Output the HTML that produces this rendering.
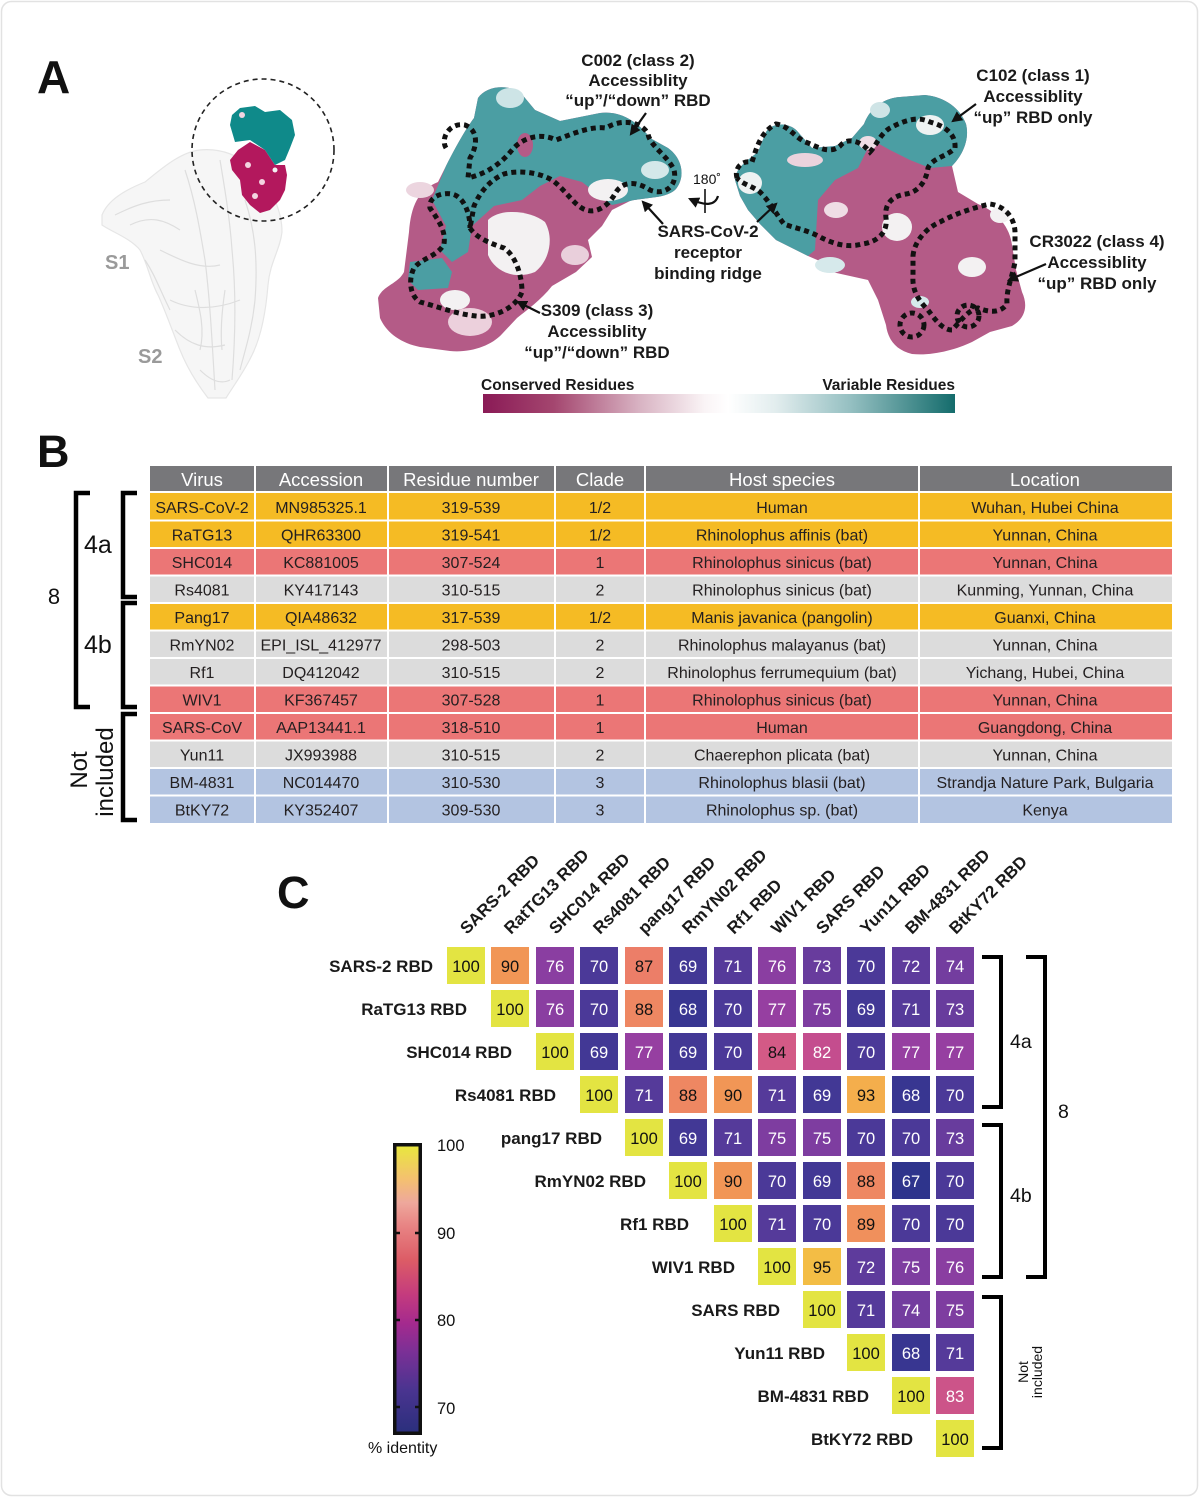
<!DOCTYPE html>
<html><head><meta charset="utf-8">
<style>
html,body{margin:0;padding:0;background:#fff;}
svg{display:block;}
text{font-family:"Liberation Sans",Arial,sans-serif;}
.b{font-weight:bold;}
.lab{font-weight:bold;font-size:17px;fill:#1a1a1a;}
.tb{font-size:16px;fill:#231f20;text-anchor:middle;}
.th{font-size:18.5px;fill:#fff;text-anchor:middle;}
.cn{font-size:16.5px;text-anchor:middle;}
.w{fill:#fff;} .k{fill:#111;}
.c100{fill:#e3e442}.c95{fill:#f3bd45}.c93{fill:#f4ae4c}.c90{fill:#f19656}.c89{fill:#f0905c}.c88{fill:#ee8762}.c87{fill:#ec7e68}
.c84{fill:#d35a86}.c83{fill:#cc5489}.c82{fill:#c44d8e}.c77{fill:#963fa1}.c76{fill:#8a3ea1}.c75{fill:#7e3da0}.c74{fill:#733d9f}
.c73{fill:#683c9d}.c72{fill:#5e3b9c}.c71{fill:#553a9a}.c70{fill:#4b3998}.c69{fill:#423895}.c68{fill:#383691}.c67{fill:#2e348c}
.dot{fill:none;stroke:#111;stroke-width:5;stroke-dasharray:5 4;}
.br{fill:none;stroke:#000;stroke-width:4.5;}
.hb{fill:none;stroke:#000;stroke-width:4;}
</style></head>
<body>
<svg width="1200" height="1497" viewBox="0 0 1200 1497" xmlns="http://www.w3.org/2000/svg">
<defs>
<linearGradient id="gA" x1="0" x2="1" y1="0" y2="0">
<stop offset="0" stop-color="#8a1a56"/><stop offset="0.15" stop-color="#a4466f"/><stop offset="0.33" stop-color="#d8b2c2"/>
<stop offset="0.47" stop-color="#faf4f6"/><stop offset="0.52" stop-color="#ffffff"/><stop offset="0.62" stop-color="#e2edee"/>
<stop offset="0.78" stop-color="#94bfc1"/><stop offset="1" stop-color="#146c6c"/>
</linearGradient>
<linearGradient id="gC" x1="0" x2="0" y1="0" y2="1">
<stop offset="0" stop-color="#e8e83c"/><stop offset="0.12" stop-color="#f4c070"/><stop offset="0.2" stop-color="#eea89c"/>
<stop offset="0.28" stop-color="#e88484"/><stop offset="0.4" stop-color="#dc5c66"/><stop offset="0.52" stop-color="#c43b7e"/>
<stop offset="0.62" stop-color="#a42a8e"/><stop offset="0.72" stop-color="#7a3096"/><stop offset="0.85" stop-color="#4a3490"/>
<stop offset="1" stop-color="#2a2f7c"/>
</linearGradient>
<marker id="ah" viewBox="0 0 10 10" refX="8" refY="5" markerWidth="5" markerHeight="5" orient="auto">
<path d="M0,0 L10,5 L0,10 Z" fill="#111"/></marker>
</defs>

<rect x="1.5" y="1.5" width="1196" height="1494" rx="10" fill="#fff" stroke="#e2e2e2" stroke-width="1.5"/>

<!-- ============ PANEL A ============ -->
<text x="37" y="93" class="b" font-size="46" fill="#111">A</text>

<!-- spike -->
<g>
<path d="M102,215 C108,200 125,190 145,182 C160,170 180,152 200,150 C220,148 240,155 255,170 C270,185 282,210 282,232 C280,250 270,262 268,285 C266,310 262,335 252,355 C244,372 234,385 226,398 L208,398 C198,385 188,370 180,350 C172,330 165,310 158,295 C150,280 148,265 140,250 C130,238 112,232 102,225 Z" fill="#f6f6f6" stroke="#e6e6e6" stroke-width="1.2"/>
<g fill="none" stroke="#dedede" stroke-width="1.2">
<path d="M115,215 C135,205 150,200 170,200 M130,225 C150,215 165,220 180,230"/>
<path d="M185,170 C195,200 200,230 205,260 C210,300 212,340 215,390"/>
<path d="M220,160 C225,190 230,220 232,250 C236,290 236,330 232,380"/>
<path d="M160,250 C180,260 200,270 220,265 M170,300 C190,310 215,310 240,300"/>
<path d="M245,200 C255,230 258,260 255,300 C252,330 245,350 240,370"/>
<path d="M175,330 C190,345 205,350 225,345 M200,370 C210,380 220,385 230,380"/>
<path d="M145,260 C155,275 160,290 170,310"/>
<path d="M195,290 C200,310 205,330 200,350 M225,290 C222,310 220,330 222,350"/>
</g>
</g>
<text x="105" y="269" class="b" font-size="20" fill="#9a9a9a">S1</text>
<text x="138" y="363" class="b" font-size="20" fill="#9a9a9a">S2</text>

<!-- small RBD -->
<path d="M230,160 L238,150 L250,142 L265,150 L275,165 L285,165 L287,175 L285,190 L280,200 L270,210 L260,213 L250,205 L242,195 L240,180 L232,170 Z" fill="#b3185d"/>
<path d="M232,115 L240,108 L255,106 L265,112 L280,110 L292,120 L295,135 L290,148 L285,160 L275,165 L265,150 L250,140 L235,142 L230,125 Z" fill="#0f8a8a"/>
<circle cx="248" cy="165" r="3" fill="#f3d4e0"/><circle cx="262" cy="182" r="3" fill="#f3d4e0"/><circle cx="275" cy="170" r="2.5" fill="#f2f2f2"/><circle cx="255" cy="196" r="3" fill="#f3d4e0"/><circle cx="242" cy="115" r="3" fill="#f3d4e0"/>
<circle cx="263" cy="150" r="71" fill="none" stroke="#222" stroke-width="1.6" stroke-dasharray="5 4"/>

<!-- left molecule -->
<path d="M378,298 C382,286 398,284 404,272 L409,232 C411,206 418,190 438,182 L446,166 C455,148 465,130 474,118 L478,98 C486,86 506,84 520,92 L535,110 L560,121 L600,113 C622,110 640,124 650,138 L668,148 C682,158 686,176 676,189 C666,199 646,197 630,201 L612,210 L602,226 L588,240 L592,257 L576,272 L552,286 C541,300 527,310 517,318 L502,334 C491,346 470,353 450,351 L420,347 C400,343 386,332 380,318 Z" fill="#b45b87"/>
<path d="M478,98 C486,86 506,84 520,92 L535,110 L560,121 L600,113 C622,110 640,124 650,138 L668,148 C682,158 686,176 676,189 C666,199 646,197 630,201 L612,205 L600,196 L582,182 L560,176 L540,186 L522,200 L494,206 L472,226 L468,252 L452,262 L440,250 L446,226 L432,200 L446,166 C455,148 465,130 474,118 Z" fill="#4b9ea3"/>
<path d="M410,262 L442,258 L452,272 L448,288 L418,290 L408,280 Z" fill="#4b9ea3"/>
<ellipse cx="525" cy="145" rx="8" ry="12" fill="#b45b87"/>
<path d="M488,220 C500,208 530,210 545,222 C555,240 548,262 535,272 C515,280 495,272 488,255 Z" fill="#f3f1f2"/>
<ellipse cx="608" cy="190" rx="20" ry="11" fill="#f3f1f2"/>
<ellipse cx="420" cy="190" rx="14" ry="8" fill="#ecd5df"/>
<ellipse cx="470" cy="322" rx="22" ry="14" fill="#ecd0dc"/>
<ellipse cx="455" cy="300" rx="15" ry="10" fill="#f3f1f2"/>
<ellipse cx="510" cy="98" rx="14" ry="10" fill="#cde4e6"/>
<ellipse cx="655" cy="170" rx="14" ry="9" fill="#d4e8ea"/>
<ellipse cx="575" cy="255" rx="14" ry="10" fill="#e9cfdb"/>
<path class="dot" d="M446,148 C440,138 450,122 465,125 C478,130 478,145 470,158 L468,178 C485,174 500,165 512,150 C522,138 540,132 556,140 C572,134 590,126 606,128 C622,118 642,122 648,134 C650,146 668,156 674,170 C678,186 664,196 650,190 C638,182 624,180 616,192 C610,204 598,214 586,210 C574,206 566,190 552,180 C538,172 518,170 504,174 C490,180 480,192 474,206 L470,228"/>
<path class="dot" d="M470,228 C476,238 492,244 504,248 C516,256 522,276 522,292 C516,308 494,318 476,316 C456,314 436,306 420,302 C410,296 408,280 414,268 C422,258 438,256 444,244 C446,230 438,220 430,208 C428,198 440,192 452,194 C462,196 470,210 470,228"/>

<!-- right molecule -->
<path d="M735,180 C735,168 748,160 758,152 L766,132 C772,122 790,122 798,132 L812,148 L835,146 L852,138 L864,124 C870,108 884,98 900,97 L925,95 C945,97 960,108 966,124 C970,140 962,156 952,166 L958,192 L978,204 C998,212 1010,228 1012,245 L1016,270 L1022,292 C1028,305 1026,318 1012,326 L990,332 L972,342 C955,350 932,356 912,354 C896,350 888,340 886,325 L878,300 L868,280 L850,276 L832,272 L822,262 L808,256 L792,248 L776,240 L760,224 L748,210 L740,196 Z" fill="#b45b87"/>
<path d="M735,180 C735,168 748,160 758,152 L766,132 C772,122 790,122 798,132 L812,148 L835,146 L852,138 L864,124 L872,140 L858,168 L835,180 L818,200 L815,250 L808,256 L792,248 L776,240 L760,224 L748,210 L740,196 Z" fill="#4b9ea3"/>
<path d="M864,124 C870,108 884,98 900,97 L925,95 C945,97 960,108 966,124 C970,140 962,156 952,166 L930,168 L910,160 L890,150 L872,140 Z" fill="#4b9ea3"/>
<ellipse cx="805" cy="160" rx="18" ry="7" fill="#ebd3dd"/>
<ellipse cx="750" cy="183" rx="12" ry="11" fill="#eef2f2"/>
<ellipse cx="930" cy="125" rx="14" ry="10" fill="#eef2f2"/>
<ellipse cx="880" cy="110" rx="10" ry="8" fill="#cfe4e6"/>
<ellipse cx="897" cy="227" rx="15" ry="14" fill="#f3f1f2"/>
<ellipse cx="1000" cy="215" rx="10" ry="8" fill="#f3f1f2"/>
<ellipse cx="972" cy="267" rx="14" ry="10" fill="#f3f1f2"/>
<ellipse cx="830" cy="265" rx="15" ry="8" fill="#d6e9eb"/>
<ellipse cx="920" cy="302" rx="9" ry="6" fill="#d6e9eb"/>
<ellipse cx="836" cy="210" rx="12" ry="8" fill="#efdde5"/>
<ellipse cx="868" cy="143" rx="9" ry="7" fill="#efdde5"/>
<path class="dot" d="M737,178 C734,168 742,160 752,162 C756,150 760,132 776,124 C790,126 794,138 808,143 C820,148 830,154 840,146 C848,136 862,142 870,152 C876,146 880,134 890,128 C905,120 918,116 930,122 C945,126 956,134 955,148 C948,156 932,158 928,168 C926,182 918,192 906,194 C892,196 884,204 886,218 C888,232 878,242 862,244 C848,248 834,244 822,238 C808,230 794,228 784,224 C776,214 770,202 760,192 C752,186 742,184 737,178"/>
<path class="dot" d="M913,256 C914,242 926,228 940,222 C955,214 972,208 990,204 C1005,206 1016,218 1015,236 L1015,262 C1012,278 1006,290 1007,304 C1000,314 988,312 978,308 C968,310 960,322 952,330 C942,330 934,318 928,310 C918,300 912,290 913,276 Z"/>
<circle class="dot" cx="912" cy="325" r="12"/>
<circle class="dot" cx="968" cy="316" r="11"/>

<!-- labels A -->
<g class="lab" text-anchor="middle">
<text x="638" y="66">C002 (class 2)</text>
<text x="638" y="86">Accessiblity</text>
<text x="638" y="106">“up”/“down” RBD</text>
<text x="708" y="237">SARS-CoV-2</text>
<text x="708" y="258">receptor</text>
<text x="708" y="279">binding ridge</text>
<text x="597" y="316">S309 (class 3)</text>
<text x="597" y="337">Accessiblity</text>
<text x="597" y="358">“up”/“down” RBD</text>
<text x="1033" y="81">C102 (class 1)</text>
<text x="1033" y="102">Accessiblity</text>
<text x="1033" y="123">“up” RBD only</text>
<text x="1097" y="247">CR3022 (class 4)</text>
<text x="1097" y="268">Accessiblity</text>
<text x="1097" y="289">“up” RBD only</text>
</g>
<g stroke="#111" stroke-width="2.2" fill="none" marker-end="url(#ah)">
<line x1="646" y1="113" x2="631" y2="134"/>
<line x1="663" y1="224" x2="643" y2="202"/>
<line x1="757" y1="222" x2="776" y2="204"/>
<line x1="540" y1="313" x2="518" y2="302"/>
<line x1="976" y1="104" x2="953" y2="121"/>
<line x1="1046" y1="264" x2="1009" y2="280"/>
<path d="M718,196 Q714,210 690,199"/>
</g>
<text x="693" y="184" font-size="14" fill="#111">180˚</text>
<line x1="705" y1="189" x2="705" y2="213" stroke="#111" stroke-width="1.6"/>

<!-- gradient bar A -->
<text x="481" y="390" class="b" font-size="15.5" fill="#1a1a1a">Conserved Residues</text>
<text x="955" y="390" class="b" font-size="15.5" fill="#1a1a1a" text-anchor="end">Variable Residues</text>
<rect x="483" y="394" width="472" height="19" fill="url(#gA)"/>

<!-- ============ PANEL B ============ -->
<text x="37" y="467" class="b" font-size="45" fill="#111">B</text>
<rect x="150" y="466" width="1022" height="26" fill="#77777a"/>
<rect x="150" y="493" width="1022" height="55" fill="#f5bb24"/>
<rect x="150" y="548" width="1022" height="27.5" fill="#eb7676"/>
<rect x="150" y="575.5" width="1022" height="27.5" fill="#dcdcdc"/>
<rect x="150" y="603" width="1022" height="27.5" fill="#f5bb24"/>
<rect x="150" y="630.5" width="1022" height="55" fill="#dcdcdc"/>
<rect x="150" y="685.5" width="1022" height="55" fill="#eb7676"/>
<rect x="150" y="740.5" width="1022" height="27.5" fill="#dcdcdc"/>
<rect x="150" y="768" width="1022" height="55" fill="#b3c4e1"/>
<g stroke="#fff" stroke-width="2">
<line x1="150" y1="492" x2="1172" y2="492"/>
<line x1="150" y1="520.5" x2="1172" y2="520.5"/><line x1="150" y1="548" x2="1172" y2="548"/>
<line x1="150" y1="575.5" x2="1172" y2="575.5"/><line x1="150" y1="603" x2="1172" y2="603"/>
<line x1="150" y1="630.5" x2="1172" y2="630.5"/><line x1="150" y1="658" x2="1172" y2="658"/>
<line x1="150" y1="685.5" x2="1172" y2="685.5"/><line x1="150" y1="713" x2="1172" y2="713"/>
<line x1="150" y1="740.5" x2="1172" y2="740.5"/><line x1="150" y1="768" x2="1172" y2="768"/>
<line x1="150" y1="795.5" x2="1172" y2="795.5"/>
<line x1="255" y1="466" x2="255" y2="823"/><line x1="388" y1="466" x2="388" y2="823"/>
<line x1="555" y1="466" x2="555" y2="823"/><line x1="645" y1="466" x2="645" y2="823"/>
<line x1="919" y1="466" x2="919" y2="823"/>
</g>
<g class="th">
<text x="202" y="486">Virus</text><text x="321" y="486">Accession</text><text x="471" y="486">Residue number</text>
<text x="600" y="486">Clade</text><text x="782" y="486">Host species</text><text x="1045" y="486">Location</text>
</g>
<g class="tb">
<text x="202" y="513">SARS-CoV-2</text><text x="321" y="513">MN985325.1</text><text x="471" y="513">319-539</text><text x="600" y="513">1/2</text><text x="782" y="513">Human</text><text x="1045" y="513">Wuhan, Hubei China</text>
<text x="202" y="540.5">RaTG13</text><text x="321" y="540.5">QHR63300</text><text x="471" y="540.5">319-541</text><text x="600" y="540.5">1/2</text><text x="782" y="540.5">Rhinolophus affinis (bat)</text><text x="1045" y="540.5">Yunnan, China</text>
<text x="202" y="568">SHC014</text><text x="321" y="568">KC881005</text><text x="471" y="568">307-524</text><text x="600" y="568">1</text><text x="782" y="568">Rhinolophus sinicus (bat)</text><text x="1045" y="568">Yunnan, China</text>
<text x="202" y="595.5">Rs4081</text><text x="321" y="595.5">KY417143</text><text x="471" y="595.5">310-515</text><text x="600" y="595.5">2</text><text x="782" y="595.5">Rhinolophus sinicus (bat)</text><text x="1045" y="595.5">Kunming, Yunnan, China</text>
<text x="202" y="623">Pang17</text><text x="321" y="623">QIA48632</text><text x="471" y="623">317-539</text><text x="600" y="623">1/2</text><text x="782" y="623">Manis javanica (pangolin)</text><text x="1045" y="623">Guanxi, China</text>
<text x="202" y="650.5">RmYN02</text><text x="321" y="650.5">EPI_ISL_412977</text><text x="471" y="650.5">298-503</text><text x="600" y="650.5">2</text><text x="782" y="650.5">Rhinolophus malayanus (bat)</text><text x="1045" y="650.5">Yunnan, China</text>
<text x="202" y="678">Rf1</text><text x="321" y="678">DQ412042</text><text x="471" y="678">310-515</text><text x="600" y="678">2</text><text x="782" y="678">Rhinolophus ferrumequium (bat)</text><text x="1045" y="678">Yichang, Hubei, China</text>
<text x="202" y="705.5">WIV1</text><text x="321" y="705.5">KF367457</text><text x="471" y="705.5">307-528</text><text x="600" y="705.5">1</text><text x="782" y="705.5">Rhinolophus sinicus (bat)</text><text x="1045" y="705.5">Yunnan, China</text>
<text x="202" y="733">SARS-CoV</text><text x="321" y="733">AAP13441.1</text><text x="471" y="733">318-510</text><text x="600" y="733">1</text><text x="782" y="733">Human</text><text x="1045" y="733">Guangdong, China</text>
<text x="202" y="760.5">Yun11</text><text x="321" y="760.5">JX993988</text><text x="471" y="760.5">310-515</text><text x="600" y="760.5">2</text><text x="782" y="760.5">Chaerephon plicata (bat)</text><text x="1045" y="760.5">Yunnan, China</text>
<text x="202" y="788">BM-4831</text><text x="321" y="788">NC014470</text><text x="471" y="788">310-530</text><text x="600" y="788">3</text><text x="782" y="788">Rhinolophus blasii (bat)</text><text x="1045" y="788">Strandja Nature Park, Bulgaria</text>
<text x="202" y="815.5">BtKY72</text><text x="321" y="815.5">KY352407</text><text x="471" y="815.5">309-530</text><text x="600" y="815.5">3</text><text x="782" y="815.5">Rhinolophus sp. (bat)</text><text x="1045" y="815.5">Kenya</text>
</g>
<!-- brackets B -->
<path class="br" d="M90,493 L76,493 L76,707 L90,707"/>
<path class="br" d="M137,493 L123,493 L123,597 L137,597"/>
<path class="br" d="M137,603 L123,603 L123,707 L137,707"/>
<path class="br" d="M137,714 L123,714 L123,820 L137,820"/>
<text x="54" y="604" font-size="22" fill="#111" text-anchor="middle">8</text>
<text x="84" y="553" font-size="25" fill="#111">4a</text>
<text x="84" y="653" font-size="25" fill="#111">4b</text>
<text transform="translate(87,770) rotate(-90)" font-size="24" fill="#111" text-anchor="middle">Not</text>
<text transform="translate(113,772) rotate(-90)" font-size="24" fill="#111" text-anchor="middle">included</text>

<!-- ============ PANEL C ============ -->
<text x="277" y="908" class="b" font-size="45" fill="#111">C</text>

<!-- column labels -->
<g class="lab">
<text x="467" y="935" transform="rotate(-45 467 935)">SARS-2 RBD</text>
<text x="511" y="935" transform="rotate(-45 511 935)">RatTG13 RBD</text>
<text x="556" y="935" transform="rotate(-45 556 935)">SHC014 RBD</text>
<text x="600" y="935" transform="rotate(-45 600 935)">Rs4081 RBD</text>
<text x="645" y="935" transform="rotate(-45 645 935)">pang17 RBD</text>
<text x="689" y="935" transform="rotate(-45 689 935)">RmYN02 RBD</text>
<text x="734" y="935" transform="rotate(-45 734 935)">Rf1 RBD</text>
<text x="778" y="935" transform="rotate(-45 778 935)">WIV1 RBD</text>
<text x="823" y="935" transform="rotate(-45 823 935)">SARS RBD</text>
<text x="867" y="935" transform="rotate(-45 867 935)">Yun11 RBD</text>
<text x="912" y="935" transform="rotate(-45 912 935)">BM-4831 RBD</text>
<text x="956" y="935" transform="rotate(-45 956 935)">BtKY72 RBD</text>
</g>
<!-- row labels -->
<g class="lab" text-anchor="end">
<text x="433" y="972">SARS-2 RBD</text>
<text x="467" y="1015">RaTG13 RBD</text>
<text x="512" y="1058">SHC014 RBD</text>
<text x="556" y="1101">Rs4081 RBD</text>
<text x="602" y="1144">pang17 RBD</text>
<text x="646" y="1187">RmYN02 RBD</text>
<text x="689" y="1230">Rf1 RBD</text>
<text x="735" y="1273">WIV1 RBD</text>
<text x="780" y="1316">SARS RBD</text>
<text x="825" y="1359">Yun11 RBD</text>
<text x="869" y="1402">BM-4831 RBD</text>
<text x="913" y="1445">BtKY72 RBD</text>
</g>

<!-- cells -->
<g class="cn">
<rect x="447" y="947" width="38" height="37" class="c100"/><text x="466" y="972" class="k">100</text>
<rect x="491" y="947" width="38" height="37" class="c90"/><text x="510" y="972" class="k">90</text>
<rect x="536" y="947" width="38" height="37" class="c76"/><text x="555" y="972" class="w">76</text>
<rect x="580" y="947" width="38" height="37" class="c70"/><text x="599" y="972" class="w">70</text>
<rect x="625" y="947" width="38" height="37" class="c87"/><text x="644" y="972" class="k">87</text>
<rect x="669" y="947" width="38" height="37" class="c69"/><text x="688" y="972" class="w">69</text>
<rect x="714" y="947" width="38" height="37" class="c71"/><text x="733" y="972" class="w">71</text>
<rect x="758" y="947" width="38" height="37" class="c76"/><text x="777" y="972" class="w">76</text>
<rect x="803" y="947" width="38" height="37" class="c73"/><text x="822" y="972" class="w">73</text>
<rect x="847" y="947" width="38" height="37" class="c70"/><text x="866" y="972" class="w">70</text>
<rect x="892" y="947" width="38" height="37" class="c72"/><text x="911" y="972" class="w">72</text>
<rect x="936" y="947" width="38" height="37" class="c74"/><text x="955" y="972" class="w">74</text>
<rect x="491" y="990" width="38" height="37" class="c100"/><text x="510" y="1015" class="k">100</text>
<rect x="536" y="990" width="38" height="37" class="c76"/><text x="555" y="1015" class="w">76</text>
<rect x="580" y="990" width="38" height="37" class="c70"/><text x="599" y="1015" class="w">70</text>
<rect x="625" y="990" width="38" height="37" class="c88"/><text x="644" y="1015" class="k">88</text>
<rect x="669" y="990" width="38" height="37" class="c68"/><text x="688" y="1015" class="w">68</text>
<rect x="714" y="990" width="38" height="37" class="c70"/><text x="733" y="1015" class="w">70</text>
<rect x="758" y="990" width="38" height="37" class="c77"/><text x="777" y="1015" class="w">77</text>
<rect x="803" y="990" width="38" height="37" class="c75"/><text x="822" y="1015" class="w">75</text>
<rect x="847" y="990" width="38" height="37" class="c69"/><text x="866" y="1015" class="w">69</text>
<rect x="892" y="990" width="38" height="37" class="c71"/><text x="911" y="1015" class="w">71</text>
<rect x="936" y="990" width="38" height="37" class="c73"/><text x="955" y="1015" class="w">73</text>
<rect x="536" y="1033" width="38" height="37" class="c100"/><text x="555" y="1058" class="k">100</text>
<rect x="580" y="1033" width="38" height="37" class="c69"/><text x="599" y="1058" class="w">69</text>
<rect x="625" y="1033" width="38" height="37" class="c77"/><text x="644" y="1058" class="w">77</text>
<rect x="669" y="1033" width="38" height="37" class="c69"/><text x="688" y="1058" class="w">69</text>
<rect x="714" y="1033" width="38" height="37" class="c70"/><text x="733" y="1058" class="w">70</text>
<rect x="758" y="1033" width="38" height="37" class="c84"/><text x="777" y="1058" class="k">84</text>
<rect x="803" y="1033" width="38" height="37" class="c82"/><text x="822" y="1058" class="w">82</text>
<rect x="847" y="1033" width="38" height="37" class="c70"/><text x="866" y="1058" class="w">70</text>
<rect x="892" y="1033" width="38" height="37" class="c77"/><text x="911" y="1058" class="w">77</text>
<rect x="936" y="1033" width="38" height="37" class="c77"/><text x="955" y="1058" class="w">77</text>
<rect x="580" y="1076" width="38" height="37" class="c100"/><text x="599" y="1101" class="k">100</text>
<rect x="625" y="1076" width="38" height="37" class="c71"/><text x="644" y="1101" class="w">71</text>
<rect x="669" y="1076" width="38" height="37" class="c88"/><text x="688" y="1101" class="k">88</text>
<rect x="714" y="1076" width="38" height="37" class="c90"/><text x="733" y="1101" class="k">90</text>
<rect x="758" y="1076" width="38" height="37" class="c71"/><text x="777" y="1101" class="w">71</text>
<rect x="803" y="1076" width="38" height="37" class="c69"/><text x="822" y="1101" class="w">69</text>
<rect x="847" y="1076" width="38" height="37" class="c93"/><text x="866" y="1101" class="k">93</text>
<rect x="892" y="1076" width="38" height="37" class="c68"/><text x="911" y="1101" class="w">68</text>
<rect x="936" y="1076" width="38" height="37" class="c70"/><text x="955" y="1101" class="w">70</text>
<rect x="625" y="1119" width="38" height="37" class="c100"/><text x="644" y="1144" class="k">100</text>
<rect x="669" y="1119" width="38" height="37" class="c69"/><text x="688" y="1144" class="w">69</text>
<rect x="714" y="1119" width="38" height="37" class="c71"/><text x="733" y="1144" class="w">71</text>
<rect x="758" y="1119" width="38" height="37" class="c75"/><text x="777" y="1144" class="w">75</text>
<rect x="803" y="1119" width="38" height="37" class="c75"/><text x="822" y="1144" class="w">75</text>
<rect x="847" y="1119" width="38" height="37" class="c70"/><text x="866" y="1144" class="w">70</text>
<rect x="892" y="1119" width="38" height="37" class="c70"/><text x="911" y="1144" class="w">70</text>
<rect x="936" y="1119" width="38" height="37" class="c73"/><text x="955" y="1144" class="w">73</text>
<rect x="669" y="1162" width="38" height="37" class="c100"/><text x="688" y="1187" class="k">100</text>
<rect x="714" y="1162" width="38" height="37" class="c90"/><text x="733" y="1187" class="k">90</text>
<rect x="758" y="1162" width="38" height="37" class="c70"/><text x="777" y="1187" class="w">70</text>
<rect x="803" y="1162" width="38" height="37" class="c69"/><text x="822" y="1187" class="w">69</text>
<rect x="847" y="1162" width="38" height="37" class="c88"/><text x="866" y="1187" class="k">88</text>
<rect x="892" y="1162" width="38" height="37" class="c67"/><text x="911" y="1187" class="w">67</text>
<rect x="936" y="1162" width="38" height="37" class="c70"/><text x="955" y="1187" class="w">70</text>
<rect x="714" y="1205" width="38" height="37" class="c100"/><text x="733" y="1230" class="k">100</text>
<rect x="758" y="1205" width="38" height="37" class="c71"/><text x="777" y="1230" class="w">71</text>
<rect x="803" y="1205" width="38" height="37" class="c70"/><text x="822" y="1230" class="w">70</text>
<rect x="847" y="1205" width="38" height="37" class="c89"/><text x="866" y="1230" class="k">89</text>
<rect x="892" y="1205" width="38" height="37" class="c70"/><text x="911" y="1230" class="w">70</text>
<rect x="936" y="1205" width="38" height="37" class="c70"/><text x="955" y="1230" class="w">70</text>
<rect x="758" y="1248" width="38" height="37" class="c100"/><text x="777" y="1273" class="k">100</text>
<rect x="803" y="1248" width="38" height="37" class="c95"/><text x="822" y="1273" class="k">95</text>
<rect x="847" y="1248" width="38" height="37" class="c72"/><text x="866" y="1273" class="w">72</text>
<rect x="892" y="1248" width="38" height="37" class="c75"/><text x="911" y="1273" class="w">75</text>
<rect x="936" y="1248" width="38" height="37" class="c76"/><text x="955" y="1273" class="w">76</text>
<rect x="803" y="1291" width="38" height="37" class="c100"/><text x="822" y="1316" class="k">100</text>
<rect x="847" y="1291" width="38" height="37" class="c71"/><text x="866" y="1316" class="w">71</text>
<rect x="892" y="1291" width="38" height="37" class="c74"/><text x="911" y="1316" class="w">74</text>
<rect x="936" y="1291" width="38" height="37" class="c75"/><text x="955" y="1316" class="w">75</text>
<rect x="847" y="1334" width="38" height="37" class="c100"/><text x="866" y="1359" class="k">100</text>
<rect x="892" y="1334" width="38" height="37" class="c68"/><text x="911" y="1359" class="w">68</text>
<rect x="936" y="1334" width="38" height="37" class="c71"/><text x="955" y="1359" class="w">71</text>
<rect x="892" y="1377" width="38" height="37" class="c100"/><text x="911" y="1402" class="k">100</text>
<rect x="936" y="1377" width="38" height="37" class="c83"/><text x="955" y="1402" class="w">83</text>
<rect x="936" y="1420" width="38" height="37" class="c100"/><text x="955" y="1445" class="k">100</text>
</g>

<!-- brackets C -->
<path class="hb" d="M982,957 L1001,957 L1001,1107 L982,1107"/>
<path class="hb" d="M982,1125 L1001,1125 L1001,1277 L982,1277"/>
<path class="hb" d="M982,1297 L1001,1297 L1001,1448 L982,1448"/>
<path class="hb" d="M1026,957 L1045,957 L1045,1277 L1026,1277"/>
<text x="1010" y="1048" font-size="19.5" fill="#111">4a</text>
<text x="1010" y="1202" font-size="19.5" fill="#111">4b</text>
<text x="1058" y="1118" font-size="19.5" fill="#111">8</text>
<text transform="translate(1028,1372) rotate(-90)" font-size="14" fill="#111" text-anchor="middle">Not</text>
<text transform="translate(1042,1372) rotate(-90)" font-size="14" fill="#111" text-anchor="middle">included</text>

<!-- colorbar C -->
<rect x="394.75" y="1144.75" width="25.5" height="288.5" fill="url(#gC)" stroke="#111" stroke-width="3.5"/>
<g stroke="#111" stroke-width="2.5">
<line x1="396" y1="1233" x2="400" y2="1233"/><line x1="415" y1="1233" x2="419" y2="1233"/>
<line x1="396" y1="1320" x2="400" y2="1320"/><line x1="415" y1="1320" x2="419" y2="1320"/>
<line x1="396" y1="1407" x2="400" y2="1407"/><line x1="415" y1="1407" x2="419" y2="1407"/>
</g>
<g font-size="16.5" fill="#111">
<text x="437" y="1151">100</text>
<text x="437" y="1239">90</text>
<text x="437" y="1326">80</text>
<text x="437" y="1414">70</text>
<text x="368" y="1453" font-size="16">% identity</text>
</g>
</svg>
</body></html>
